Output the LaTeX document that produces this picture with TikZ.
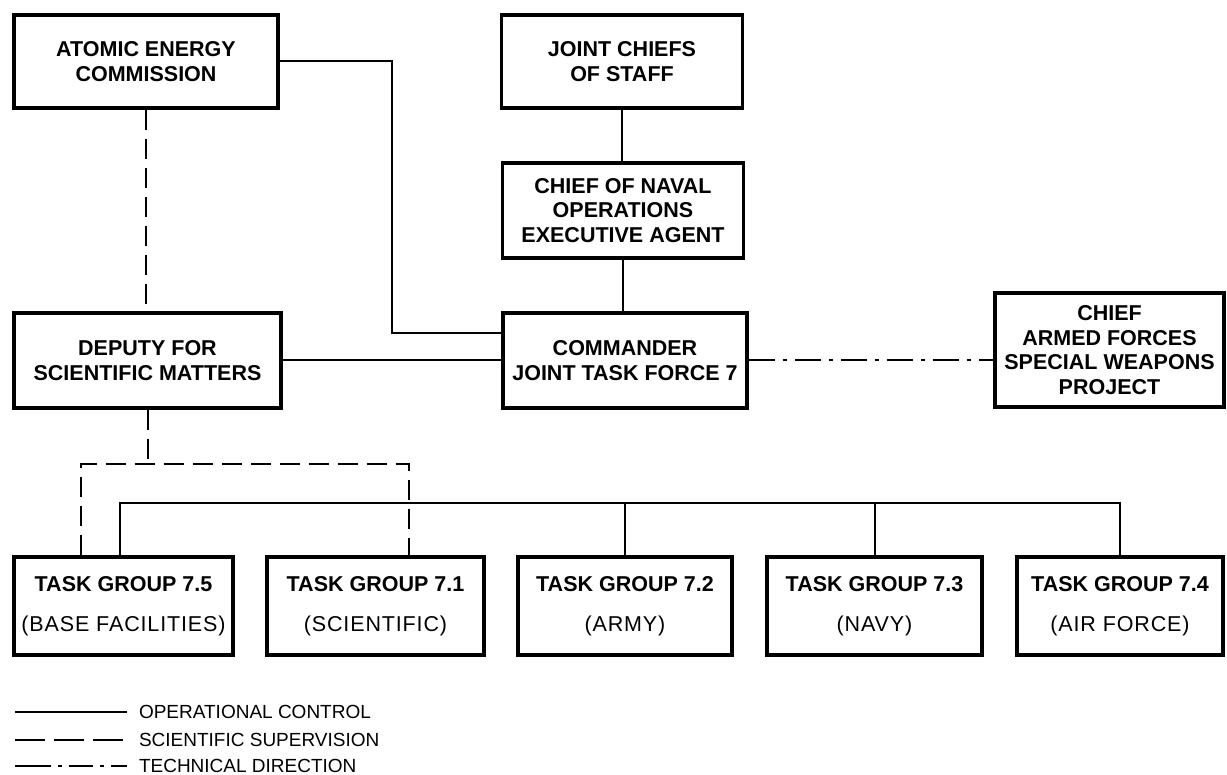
\documentclass[tikz,border=0pt]{standalone}
\usepackage{fontspec}
\setmainfont{Liberation Sans}
\usetikzlibrary{calc}

\tikzset{
  orgbox/.style={draw, line width=3.5pt, rectangle, align=center, inner sep=0pt,
    font=\fontsize{21.5}{24.5}\selectfont\bfseries},
  tgbox/.style={orgbox, minimum height=98pt},
  opctrl/.style={line width=2pt},
  scisup/.style={line width=2pt, dash pattern=on 20pt off 9pt},
  techdir/.style={line width=2pt, dash pattern=on 26pt off 8pt on 4pt off 8pt},
  legtext/.style={anchor=west, inner sep=0pt, font=\fontsize{19}{21}\selectfont}
}
\newcommand{\tgsub}[1]{\mdseries\addfontfeature{LetterSpace=4}#1}

\begin{document}
\begin{tikzpicture}[x=1pt, y=-1pt]
\useasboundingbox (0, 0) rectangle (1227, 775);

% top row
\node [orgbox, minimum width=264pt, minimum height=93pt] (aec) at (146, 61.5) {ATOMIC ENERGY\\COMMISSION};
\node [orgbox, minimum width=241pt, minimum height=93pt] (jcs) at (622, 61.5) {JOINT CHIEFS\\OF STAFF};
\node [orgbox, minimum width=241pt, minimum height=95pt] (cno) at (623, 210.5) {CHIEF OF NAVAL\\OPERATIONS\\EXECUTIVE AGENT};

% middle row
\node [orgbox, minimum width=267pt, minimum height=95pt] (dsm) at (147.5, 360.5) {DEPUTY FOR\\SCIENTIFIC MATTERS};
\node [orgbox, minimum width=244pt, minimum height=95pt] (cjtf) at (625, 360.5) {COMMANDER\\JOINT TASK FORCE 7};
\node [orgbox, minimum width=229pt, minimum height=114pt] (afswp) at (1109.5, 350) {CHIEF\\ARMED FORCES\\SPECIAL WEAPONS\\PROJECT};

% task groups
\node [tgbox, minimum width=219pt] (tg75) at (123.5, 606) {TASK GROUP 7.5\\[16pt]\tgsub{(BASE FACILITIES)}};
\node [tgbox, minimum width=217pt] (tg71) at (375.5, 606) {TASK GROUP 7.1\\[16pt]\tgsub{(SCIENTIFIC)}};
\node [tgbox, minimum width=214pt] (tg72) at (625, 606) {TASK GROUP 7.2\\[16pt]\tgsub{(ARMY)}};
\node [tgbox, minimum width=215pt] (tg73) at (874.5, 606) {TASK GROUP 7.3\\[16pt]\tgsub{(NAVY)}};
\node [tgbox, minimum width=206pt] (tg74) at (1120, 606) {TASK GROUP 7.4\\[16pt]\tgsub{(AIR FORCE)}};

% operational control
\draw [opctrl] (jcs.south) -- (jcs.south |- cno.north);
\draw [opctrl] (cno.south) -- (cno.south |- cjtf.north);
\draw [opctrl] (aec.east) -| (392, 333) -- (cjtf.west |- 0, 333);
\draw [opctrl] (dsm.east) -- (cjtf.west);
\coordinate (bus) at (0, 503);
\draw [opctrl] (tg75.north -| 120, 0) -- (bus -| 120, 0) -- (bus -| tg74.north) -- (tg74.north);
\draw [opctrl] (tg72.north) -- (bus -| tg72.north);
\draw [opctrl] (tg73.north) -- (bus -| tg73.north);

% scientific supervision
\draw [scisup] (aec.south) -- (aec.south |- dsm.north);
\draw [scisup] (dsm.south) -- (dsm.south |- 0, 464);
\draw [scisup] (tg75.north -| 81, 0) -- (81, 464) -- (409, 464) -- (tg71.north -| 409, 0);

% technical direction
\draw [techdir] (cjtf.east) -- (afswp.west |- cjtf.east);

% legend
\coordinate (leg1) at (15, 712);
\coordinate (leg2) at (15, 740);
\coordinate (leg3) at (15, 766);
\draw [opctrl] (leg1) -- ++(112, 0) node [legtext, xshift=11pt] (legop) {OPERATIONAL CONTROL};
\draw [scisup, dash pattern=on 30pt off 9pt] (leg2) -- ++(112, 0) node [legtext, xshift=11pt] (legsci) {SCIENTIFIC SUPERVISION};
\draw [techdir, dash pattern=on 36pt off 7pt on 4pt off 7pt on 24pt off 7pt on 4pt off 7pt] (leg3) -- ++(112, 0) node [legtext, xshift=11pt] (legtech) {TECHNICAL DIRECTION};
\end{tikzpicture}
\end{document}
